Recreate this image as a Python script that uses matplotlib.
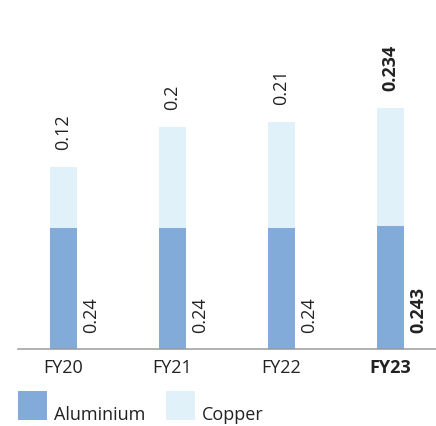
import matplotlib
matplotlib.use("Agg")
import matplotlib.pyplot as plt
from matplotlib.patches import Rectangle

years     = ["FY20", "FY21", "FY22", "FY23"]
aluminium = [0.24, 0.24, 0.24, 0.243]
copper    = [0.12, 0.2, 0.21, 0.234]
alu_txt   = ["0.24", "0.24", "0.24", "0.243"]
cu_txt    = ["0.12", "0.2", "0.21", "0.234"]
series    = ["Aluminium", "Copper"]

ALU_COLOR = "#82abda"
CU_COLOR  = "#e1f1f9"
TXT_COLOR = "#222222"
FS = 18

plt.rcParams["font.family"] = ["Open Sans", "DejaVu Sans"]

# dpi 72 so that points == pixels
W, H = 436, 426
fig = plt.figure(figsize=(W/72, H/72), dpi=72)
ax = fig.add_axes([18/W, 77/H, 418/W, 349/H])

xs = list(range(len(years)))
ax.bar(xs, aluminium, width=0.248, color=ALU_COLOR, linewidth=0)
ax.bar(xs, copper, width=0.248, bottom=aluminium, color=CU_COLOR, linewidth=0)

for i in xs:
  w = "bold" if i == len(xs) - 1 else "normal"
  ax.annotate(cu_txt[i], (i, aluminium[i] + copper[i]), xytext=(0, 17),
              textcoords="offset points", ha="center", va="bottom",
              rotation=90, fontsize=FS, fontweight=w, color=TXT_COLOR)
  ax.annotate(alu_txt[i], (i, 0), xytext=(28, 16),
              textcoords="offset points", ha="center", va="bottom",
              rotation=90, fontsize=FS, fontweight=w, color=TXT_COLOR)

ax.set_xlim(-0.417, 3.417)
ax.set_ylim(0, 0.691)
ax.set_xticks(xs)
ax.set_xticklabels(years, fontsize=FS, color=TXT_COLOR)
ax.get_xticklabels()[-1].set_fontweight("bold")
ax.tick_params(axis="x", length=0, pad=10)
ax.set_yticks([])
for s in ["top", "left", "right"]:
  ax.spines[s].set_visible(False)
ax.spines["bottom"].set_color("#999999")
ax.spines["bottom"].set_linewidth(1.5)

# legend: squares with text sitting on their bottom edge
for (lx, name, col) in [(18, series[0], ALU_COLOR), (166, series[1], CU_COLOR)]:
  fig.add_artist(Rectangle((lx/W, 1 - 420/H), 29/W, 29/H, transform=fig.transFigure,
                           facecolor=col, linewidth=0))
  fig.text((lx + 36)/W, 1 - 420/H, name, fontsize=FS, color=TXT_COLOR,
           ha="left", va="baseline")

fig.savefig("out.png", dpi=72)
